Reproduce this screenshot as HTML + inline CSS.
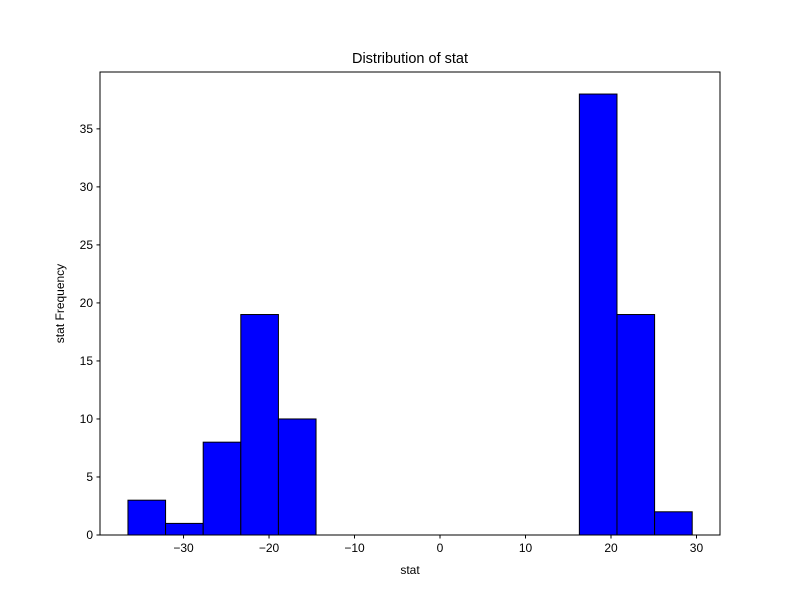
<!DOCTYPE html>
<html><head><meta charset="utf-8"><style>
body{margin:0;background:#fff;}
svg{display:block;font-family:"Liberation Sans",sans-serif;}
</style></head><body>
<svg id="chart" width="800" height="600"></svg>
<script>
const binStart = -36.5;
const binWidth = 4.4;
const counts = [3, 1, 8, 19, 10, 0, 0, 0, 0, 0, 0, 0, 38, 19, 2];
const xTicks = [-30, -20, -10, 0, 10, 20, 30];
const xTickLabels = ["\u221230", "\u221220", "\u221210", "0", "10", "20", "30"];
const yTicks = [0, 5, 10, 15, 20, 25, 30, 35];

const L=100,R=720,T=72,B=535;
const xMin=-39.77,xMax=32.75,yMin=0,yMax=39.9;
const xs=v=>L+(v-xMin)/(xMax-xMin)*(R-L);
const ys=v=>B-(v-yMin)/(yMax-yMin)*(B-T);
const svg=document.getElementById('chart');
const NS='http://www.w3.org/2000/svg';
function mk(tag,attrs,parent){const e=document.createElementNS(NS,tag);for(const k in attrs)e.setAttribute(k,attrs[k]);(parent||svg).appendChild(e);return e;}

counts.forEach((c,i)=>{
  if(c<=0)return;
  const x0=xs(binStart+i*binWidth),x1=xs(binStart+(i+1)*binWidth);
  const r=mk('rect',{x:x0,y:ys(c),width:x1-x0,height:ys(0)-ys(c),fill:'#0000ff',stroke:'#000','stroke-width':1});
  
  
});

const frame=mk('rect',{x:L,y:T,width:R-L,height:B-T,fill:'none',stroke:'#000','stroke-width':1});



xTicks.forEach((v,i)=>{
  const x=xs(v);
  mk('line',{x1:x,x2:x,y1:B,y2:B+3.5,stroke:'#000'});
  const t=mk('text',{x:x,y:B+17,'text-anchor':'middle','font-size':12});
  t.textContent=xTickLabels[i];
  
  
});
yTicks.forEach(v=>{
  const y=ys(v);
  mk('line',{x1:L-3.5,x2:L,y1:y,y2:y,stroke:'#000'});
  const t=mk('text',{x:L-7,y:y+4,'text-anchor':'end','font-size':12});
  t.textContent=v;
  
  
});

const title=mk('text',{x:(L+R)/2,y:63,'text-anchor':'middle','font-size':14.5});
title.textContent='Distribution of stat';



const xl=mk('text',{x:(L+R)/2,y:574,'text-anchor':'middle','font-size':12});
xl.textContent='stat';



const yl=mk('text',{x:64,y:(T+B)/2,'text-anchor':'middle','font-size':12,transform:'rotate(-90 64 '+((T+B)/2)+')'});
yl.textContent='stat Frequency';


</script>
</body></html>
